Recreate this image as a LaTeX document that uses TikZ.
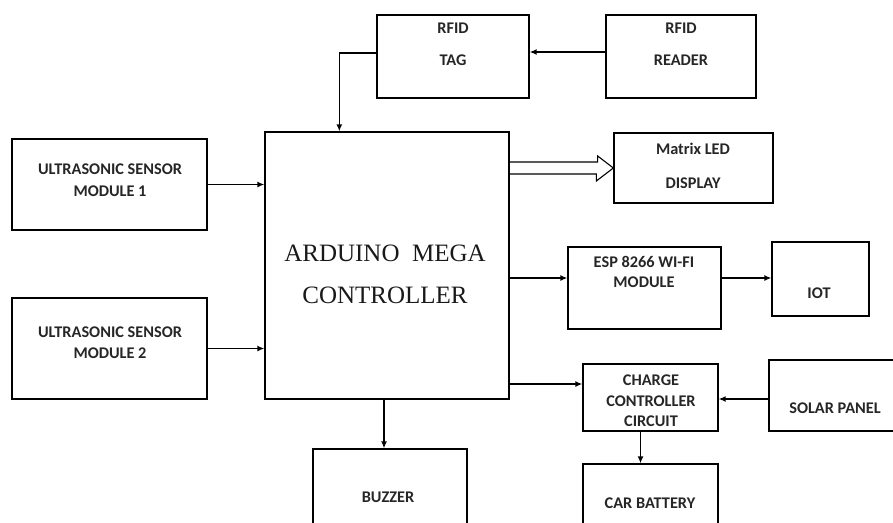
\documentclass[tikz,border=0pt]{standalone}
\usepackage{fontspec}
\setmainfont{Liberation Serif}
\newfontfamily\carlito{Carlito}
\usetikzlibrary{arrows.meta,fit}
\begin{document}
\begin{tikzpicture}[x=1pt,y=-1pt,
  box/.style={draw, line width=1.3pt, inner sep=0pt},
  lbl/.style={font=\carlito\bfseries\fontsize{16.3}{19}\selectfont, text=black!85, inner sep=0pt, anchor=center},
  big/.style={font=\fontsize{25}{29}\selectfont, text=black!90, inner sep=0pt, anchor=center},
  arr/.style={-{Latex[length=7pt,width=6pt]}, line width=1.4pt}]
\useasboundingbox (0,0) rectangle (893,522);
\clip (0,0) rectangle (893,522);
% boxes
\node[box, fit={(377,15) (529,98)}] (tag) {};
\node[box, fit={(606,15) (756,98)}] (reader) {};
\node[box, fit={(265,132) (509,399)}] (ard) {};
\node[box, fit={(614,133) (773,203)}] (matrix) {};
\node[box, fit={(12,139) (207,230)}] (us1) {};
\node[box, fit={(12,298) (207,399)}] (us2) {};
\node[box, fit={(568,247) (721,329)}] (esp) {};
\node[box, fit={(772,242) (869,316)}] (iot) {};
\node[box, fit={(583,364) (718,431)}] (charge) {};
\node[box, fit={(769,360) (900,431)}] (solar) {};
\node[box, fit={(313,449) (467,540)}] (buzzer) {};
\node[box, fit={(583,464) (718,540)}] (battery) {};
% texts
\node[lbl] (tag1) at (453,28) {RFID};
\node[lbl] (tag2) at (453,60) {TAG};
\node[lbl] (rd1) at (681,28) {RFID};
\node[lbl] (rd2) at (681,60) {READER};
\node[lbl] (mx1) at (693,149) {Matrix LED};
\node[lbl] (mx2) at (693,183) {DISPLAY};
\node[lbl] (u11) at (110,169) {ULTRASONIC SENSOR};
\node[lbl] (u12) at (110,191) {MODULE 1};
\node[lbl] (u21) at (110,332) {ULTRASONIC SENSOR};
\node[lbl] (u22) at (110,353) {MODULE 2};
\node[big] (a1) at (385,253) {ARDUINO\ \ MEGA};
\node[big] (a2) at (385,295) {CONTROLLER};
\node[lbl] (e1) at (644,262) {ESP 8266 WI-FI};
\node[lbl] (e2) at (644,282) {MODULE};
\node[lbl] (io) at (819,293) {IOT};
\node[lbl] (c1) at (651,380) {CHARGE};
\node[lbl] (c2) at (651,401) {CONTROLLER};
\node[lbl] (c3) at (651,421) {CIRCUIT};
\node[lbl] (sp) at (835,408) {SOLAR PANEL};
\node[lbl] (cb) at (650,503) {CAR BATTERY};
\node[lbl] (bz) at (388,497) {BUZZER};
% connectors
\draw[arr] ([yshift=4.5pt]reader.west) -- ([yshift=4.5pt]tag.east);
\draw[arr] ([yshift=3.5pt]tag.west) -| ([xshift=75pt]ard.north west);
\draw[arr] (us1.east) -- (us1.east -| ard.west);
\draw[arr] (us2.east) -- (us2.east -| ard.west);
\draw[arr] ([xshift=-3pt]ard.south) -- ([xshift=-3pt]ard.south |- buzzer.north);
\draw[arr] ([yshift=10pt]esp.west -| ard.east) -- ([yshift=10pt]esp.west);
\draw[arr] ([yshift=10pt]esp.east) -- ([yshift=10pt]esp.east -| iot.west);
\draw[arr] ([yshift=13.5pt]charge.west -| ard.east) -- ([yshift=13.5pt]charge.west);
\draw[arr] ([yshift=-3.5pt]solar.west) -- ([yshift=-3.5pt]solar.west -| charge.east);
\draw[arr] ([xshift=-10pt]charge.south) -- ([xshift=-10pt]charge.south |- battery.north);
\coordinate (tip) at (matrix.west);
\draw[line width=1.1pt, line join=miter] ([yshift=6pt]tip -| ard.east) -- ++(88,0) -- ++(0,-6) -- (tip) -- ++(-17,13) -- ++(0,-7) -- ++(-88,0);
\end{tikzpicture}
\end{document}
